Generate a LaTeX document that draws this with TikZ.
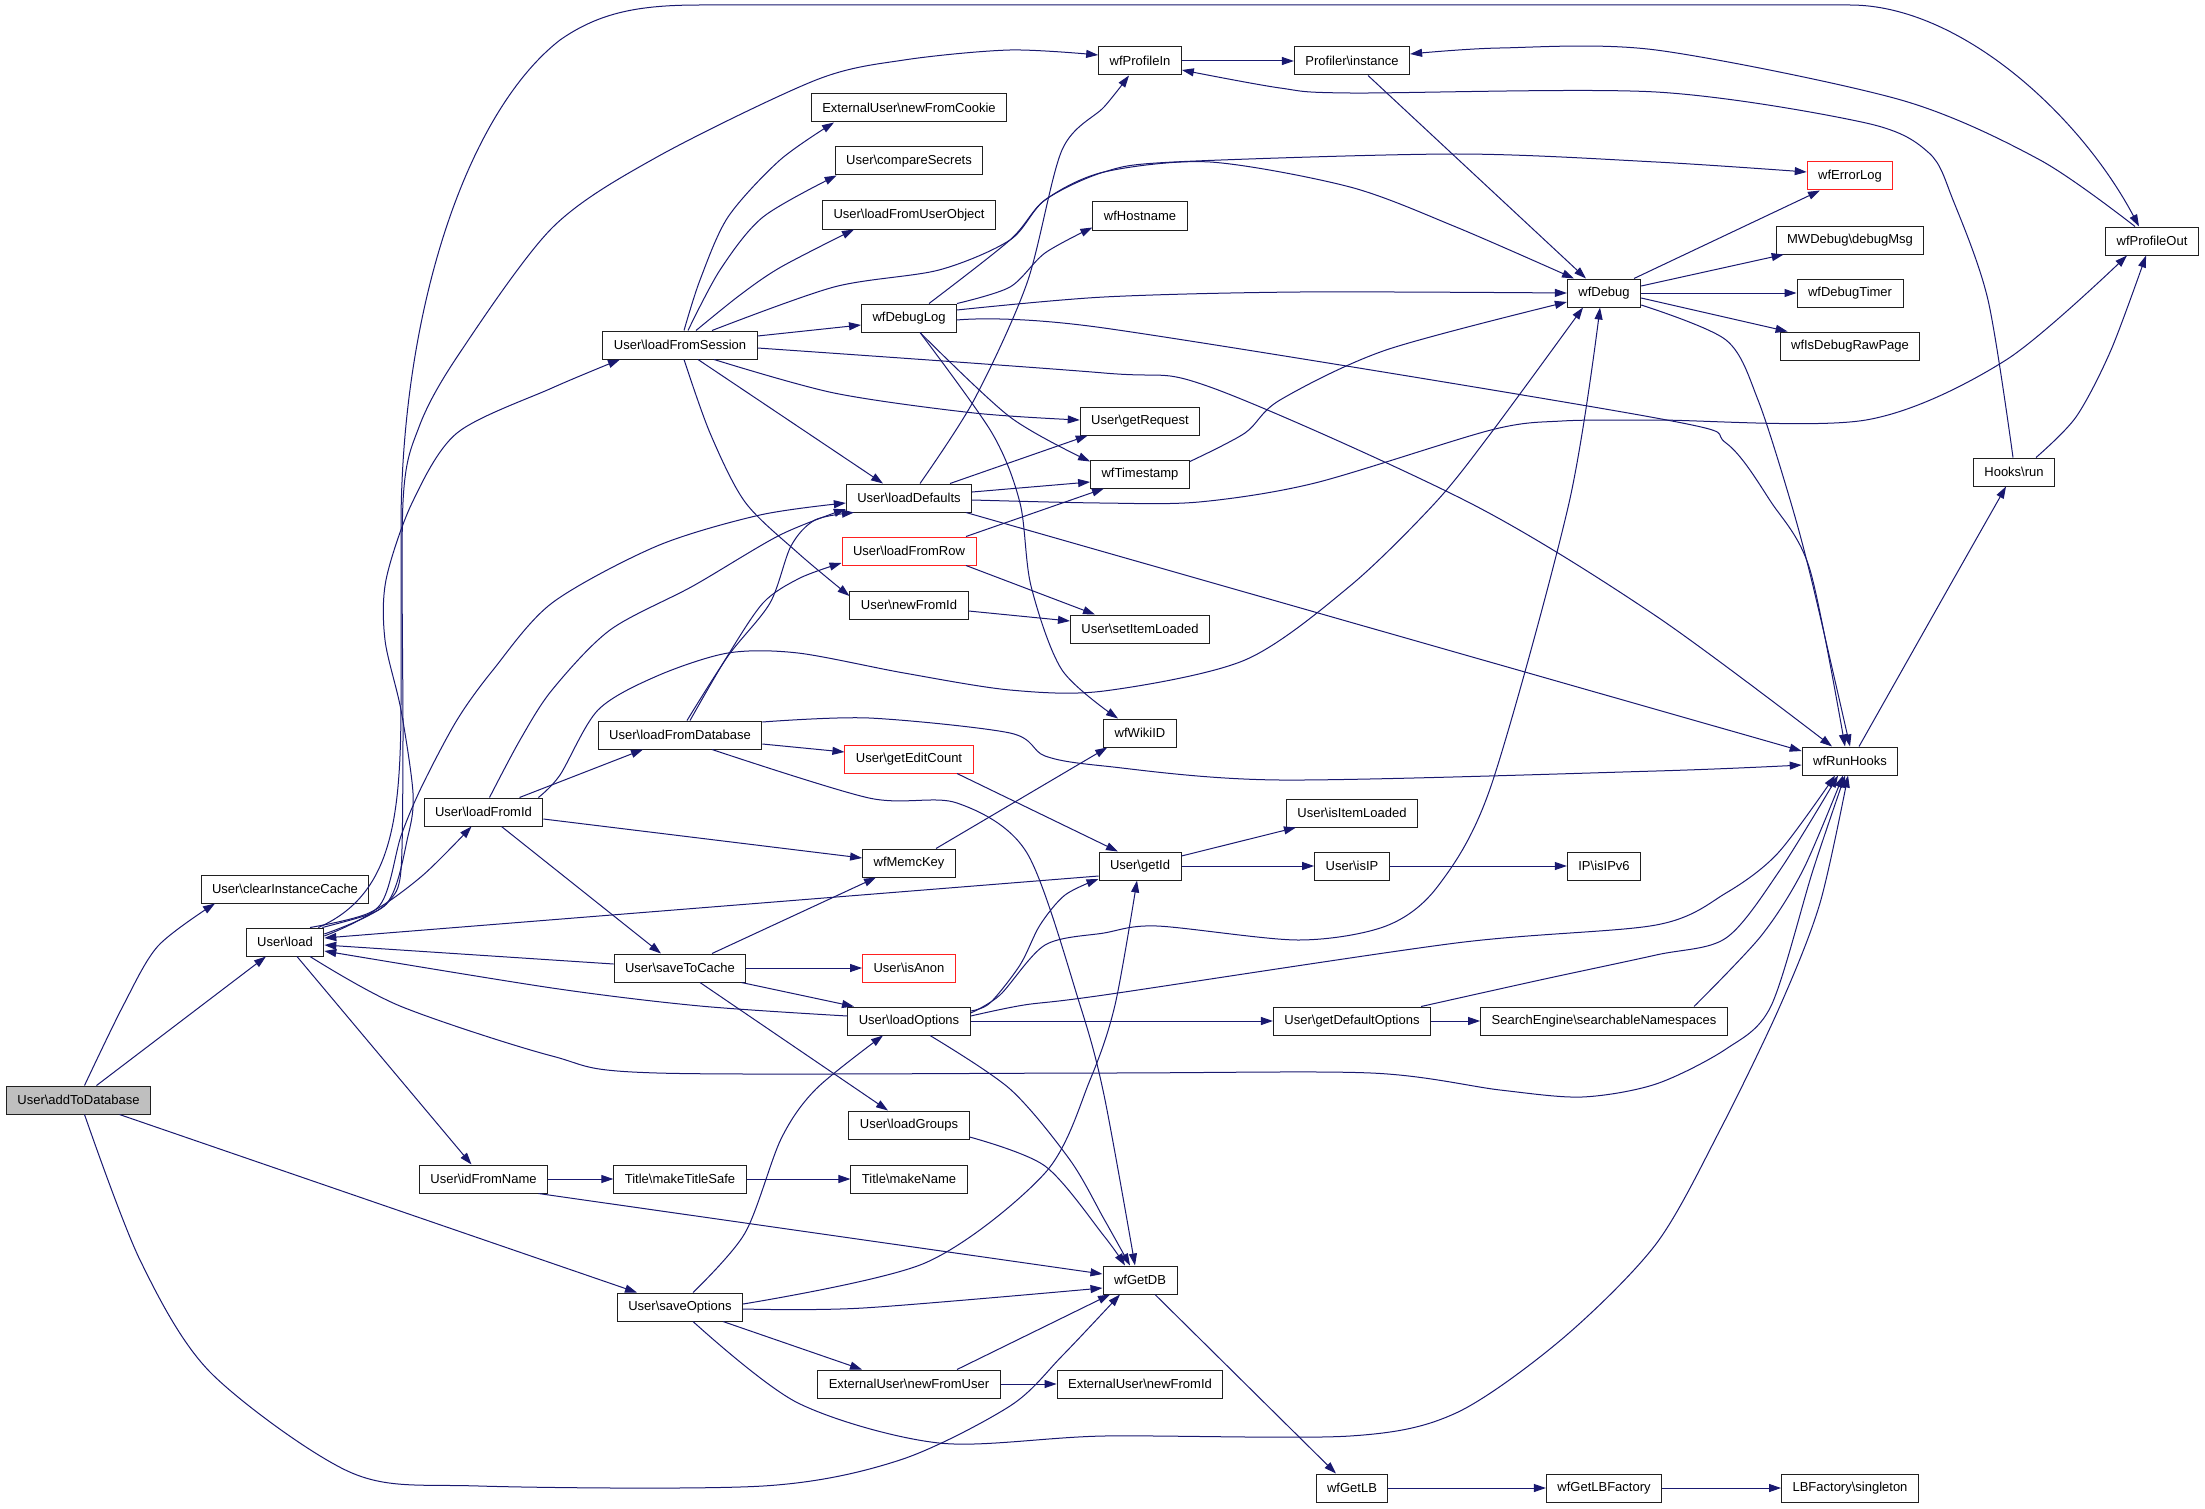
\documentclass[tikz,border=0pt]{standalone}
\usepackage{fontspec}
\setmainfont{Liberation Sans}
\usetikzlibrary{arrows.meta}
\definecolor{edgec}{HTML}{191970}
\definecolor{boxred}{HTML}{FF2020}
\definecolor{fillgray}{HTML}{BFBFBF}
\definecolor{boxline}{HTML}{202020}
\newcommand{\bsl}{\textbackslash{}}
\tikzset{
  fn/.style={draw=boxline, line width=1bp, rectangle, minimum height=28bp, inner xsep=11bp, inner ysep=0pt, fill=white, font=\fontsize{13bp}{15bp}\selectfont},
  redfn/.style={fn, draw=boxred},
  e/.style={draw=edgec, line width=1bp, -{Triangle[length=12bp,width=8bp]}, fill=none},
}
\begin{document}
\begin{tikzpicture}[x=1bp, y=-1bp]
\path[use as bounding box, fill=white] (0,0) rectangle (2205,1508);

% nodes
\node[fn, fill=fillgray] (add) at (78.5,1100) {User\bsl addToDatabase};
\node[fn] (clear) at (285,889) {User\bsl clearInstanceCache};
\node[fn] (load) at (285,942) {User\bsl load};
\node[fn] (lfid) at (483.5,812) {User\bsl loadFromId};
\node[fn] (idfn) at (483.5,1179) {User\bsl idFromName};
\node[fn] (lfs) at (680,345) {User\bsl loadFromSession};
\node[fn] (lfdb) at (680,735) {User\bsl loadFromDatabase};
\node[fn] (stc) at (680,968) {User\bsl saveToCache};
\node[fn] (mts) at (680,1179) {Title\bsl makeTitleSafe};
\node[fn] (so) at (680,1307) {User\bsl saveOptions};
\node[fn] (nfc) at (909,108) {ExternalUser\bsl newFromCookie};
\node[fn] (cs) at (909,161) {User\bsl compareSecrets};
\node[fn] (lfuo) at (909,215) {User\bsl loadFromUserObject};
\node[fn] (dlog) at (909,318) {wfDebugLog};
\node[fn] (ld) at (909,498) {User\bsl loadDefaults};
\node[redfn] (lfr) at (909,551) {User\bsl loadFromRow};
\node[fn] (nfi) at (909,605) {User\bsl newFromId};
\node[redfn] (gec) at (909,759) {User\bsl getEditCount};
\node[fn] (mk) at (909,863) {wfMemcKey};
\node[redfn] (anon) at (909,968) {User\bsl isAnon};
\node[fn] (lo) at (909,1021) {User\bsl loadOptions};
\node[fn] (lg) at (909,1125) {User\bsl loadGroups};
\node[fn] (mn) at (909,1179) {Title\bsl makeName};
\node[fn] (nfu) at (909,1384) {ExternalUser\bsl newFromUser};
\node[fn] (pin) at (1140,61) {wfProfileIn};
\node[fn] (host) at (1140,216) {wfHostname};
\node[fn] (req) at (1140,421) {User\bsl getRequest};
\node[fn] (ts) at (1140,474) {wfTimestamp};
\node[fn] (sil) at (1140,629) {User\bsl setItemLoaded};
\node[fn] (wiki) at (1140,733) {wfWikiID};
\node[fn] (gid) at (1140,866) {User\bsl getId};
\node[fn] (db) at (1140,1280) {wfGetDB};
\node[fn] (xnfi) at (1140,1384) {ExternalUser\bsl newFromId};
\node[fn] (prof) at (1352,61) {Profiler\bsl instance};
\node[fn] (iil) at (1352,813) {User\bsl isItemLoaded};
\node[fn] (isip) at (1352,866) {User\bsl isIP};
\node[fn] (gdo) at (1352,1021) {User\bsl getDefaultOptions};
\node[fn] (lb) at (1352,1488) {wfGetLB};
\node[fn] (dbg) at (1604,293) {wfDebug};
\node[fn] (ipv6) at (1604,866) {IP\bsl isIPv6};
\node[fn] (sen) at (1604,1021) {SearchEngine\bsl searchableNamespaces};
\node[fn] (lbf) at (1604,1488) {wfGetLBFactory};
\node[redfn] (elog) at (1850,176) {wfErrorLog};
\node[fn] (dmsg) at (1850,240) {MWDebug\bsl debugMsg};
\node[fn] (dtim) at (1850,293) {wfDebugTimer};
\node[fn] (raw) at (1850,346) {wfIsDebugRawPage};
\node[fn] (rh) at (1850,761) {wfRunHooks};
\node[fn] (lbs) at (1850,1488) {LBFactory\bsl singleton};
\node[fn] (pout) at (2152,241) {wfProfileOut};
\node[fn] (hr) at (2014,472) {Hooks\bsl run};

% addToDatabase
\draw[e] plot[smooth] coordinates {([xshift=6bp]add.north) (123,1006) (158,946) ([xshift=-70bp]clear.south)};
\draw[e] ([xshift=18bp]add.north) -- ([xshift=-19bp]load.south);
\draw[e] ([xshift=41bp]add.south) -- ([xshift=-43bp]so.north);
\draw[e] plot[smooth] coordinates {([xshift=6bp]add.south) (140,1260) (211,1373) (352,1473) (479,1486) (763,1486) (900,1460) (1010,1406) (1062,1356) ([xshift=-20bp]db.south)};

% load
\draw[e] plot[smooth] coordinates {([xshift=25bp]load.north) (369,913) (422,876) ([xshift=-12bp]lfid.south)};
\draw[e] ([xshift=12bp]load.south) -- ([xshift=-12bp]idfn.north);
\draw[e] plot[smooth] coordinates {([xshift=25bp]load.south) (400,1006) (552,1056) (657,1073) (1104,1073) (1371,1073) (1500,1090) (1582,1097) (1656,1084) (1726,1049) (1771,1006) (1813,870) ([xshift=-5bp]rh.south)};
\draw[e] plot[smooth] coordinates {([xshift=-2bp]load.north east) (370,914) (390,900) (401,870) (403,740) (403,502) (419,427) (457,357) (552,228) (657,157) (816,80) (904,60) (1010,50) ([yshift=6bp]pin.west)};
\draw[e] ([xshift=-6bp]load.north east) .. controls (392,895) and (401,820) .. (401,700) -- (401,520)
   .. controls (403,300) and (470,110) .. (560,40) .. controls (600,12) and (640,5) .. (700,5) -- (1850,5)
   .. controls (1960,5) and (2080,115) .. ([xshift=-13bp]pout.north);
\draw[e] plot[smooth] coordinates {([yshift=8bp]load.east) (387,903) (408,836) (413,793) (401,710) (385,640) (386,580) (412,503) (457,433) (552,388) ([xshift=-60bp]lfs.south)};
\draw[e] plot[smooth] coordinates {([yshift=6bp]load.east) (380,905) (401,836) (422,786) (457,720) (493,670) (552,603) (657,546) (760,515) ([yshift=-5bp]ld.west)};

% loadFromId
\draw[e] plot[smooth] coordinates {([xshift=6bp]lfid.north) (520,740) (552,690) (610,630) (693,586) (780,535) ([yshift=-11bp]ld.west)};
\draw[e] ([xshift=36bp]lfid.north) -- ([xshift=-37bp]lfdb.south);
\draw[e] plot[smooth] coordinates {([xshift=-5bp]lfid.north east) (560,775) (598,710) (657,676) (728,653) (798,653) (904,673) (1010,690) (1104,691) (1245,660) (1350,586) (1435,503) (1491,433) ([xshift=-21bp]dbg.south)};
\draw[e] ([yshift=-7bp]lfid.east) -- ([yshift=5bp]mk.west);
\draw[e] ([xshift=18bp]lfid.south) -- ([xshift=-19bp]stc.north);

% idFromName
\draw[e] (idfn.east) -- (mts.west);
\draw[e] ([xshift=55bp]idfn.south) -- ([yshift=6bp]db.west);
\draw[e] (mts.east) -- (mn.west);

% saveOptions
\draw[e] plot[smooth] coordinates {([xshift=13bp]so.north) (745,1233) (781,1139) (816,1089) ([xshift=-26bp]lo.south)};
\draw[e] plot[smooth] coordinates {([yshift=3bp]so.east) (925,1263) (1045,1173) (1090,1080) (1115,1005) ([xshift=-3bp]gid.south)};
\draw[e] plot[smooth] coordinates {([yshift=-2bp]so.east) (863,1308) ([yshift=-8bp]db.west)};
\draw[e] ([xshift=43bp]so.south) -- ([xshift=-47bp]nfu.north);
\draw[e] plot[smooth] coordinates {([xshift=13bp]so.south) (798,1403) (939,1443) (1104,1436) (1350,1436) (1456,1413) (1562,1339) (1656,1244) (1720,1130) (1780,1006) (1820,903) ([xshift=-2bp]rh.south)};

% newFromUser, loadGroups, wfGetDB chain
\draw[e] (nfu.east) -- (xnfi.west);
\draw[e] ([xshift=48bp]nfu.north) -- ([xshift=-30bp]db.south);
\draw[e] plot[smooth] coordinates {([yshift=-12bp]lg.east) (1045,1166) (1104,1236) ([xshift=-15bp]db.north)};
\draw[e] plot[smooth] coordinates {([xshift=21bp]lo.south) (1010,1089) (1070,1160) (1104,1219) ([xshift=-10bp]db.north)};
\draw[e] ([xshift=15bp]db.south) -- ([xshift=-16bp]lb.north);
\draw[e] (lb.east) -- (lbf.west);
\draw[e] (lbf.east) -- (lbs.west);

% into User::load
\draw[e] ([yshift=4bp]stc.west) -- ([yshift=-3bp]load.east);
\draw[e] ([yshift=-10bp]gid.west) -- ([yshift=4bp]load.east);
\draw[e] plot[smooth] coordinates {([yshift=5bp]lo.west) (700,1006) (552,988) ([yshift=-9bp]load.east)};

% saveToCache
\draw[e] ([xshift=32bp]stc.north) -- ([xshift=-33bp]mk.south);
\draw[e] (stc.east) -- (anon.west);
\draw[e] ([xshift=-5bp]stc.south east) -- ([xshift=-55bp]lo.north);
\draw[e] ([xshift=20bp]stc.south) -- ([xshift=-21bp]lg.north);

% misc middle
\draw[e] ([xshift=27bp]mk.north) -- ([xshift=4bp]wiki.south west);
\draw[e] ([xshift=48bp]gec.south) -- ([xshift=-22bp]gid.north);
\draw[e] ([yshift=10bp]gid.east) -- ([xshift=10bp]iil.south west);
\draw[e] (gid.east) -- (isip.west);
\draw[e] (isip.east) -- (ipv6.west);

% loadOptions
\draw[e] plot[smooth] coordinates {([yshift=10bp]lo.east) (990,1003) (1020,965) (1040,925) (1065,895) ([yshift=-13bp]gid.west)};
\draw[e] plot[smooth] coordinates {([yshift=8bp]lo.east) (1000,995) (1045,945) (1104,933) (1157,926) (1298,940) (1386,926) (1438,886) (1491,786) (1569,503) ([xshift=-4bp]dbg.south)};
\draw[e] plot[smooth] coordinates {([yshift=5bp]lo.east) (1024,1005) (1104,995) (1456,943) (1656,925) (1726,893) (1778,853) ([xshift=-15bp]rh.south)};
\draw[e] (lo.east) -- (gdo.west);
\draw[e] (gdo.east) -- (sen.west);
\draw[e] plot[smooth] coordinates {([xshift=-10bp]gdo.north east) (1540,980) (1656,955) (1726,938) (1780,870) ([xshift=-12bp]rh.south)};
\draw[e] plot[smooth] coordinates {([xshift=90bp]sen.north) (1761,936) (1803,870) ([xshift=-7bp]rh.south)};

% loadFromDatabase
\draw[e] plot[smooth] coordinates {([xshift=7bp]lfdb.north) (728,656) (770,603) (791,546) (815,520) ([xshift=-55bp]ld.south)};
\draw[e] plot[smooth] coordinates {([xshift=10bp]lfdb.north) (725,660) (763,603) (800,578) ([yshift=-12bp]lfr.west)};
\draw[e] ([yshift=-9bp]lfdb.east) -- ([yshift=7bp]gec.west);
\draw[e] plot[smooth] coordinates {([xshift=32bp]lfdb.south) (869,798) (957,803) (1027,853) (1080,1005) (1104,1095) ([xshift=-5bp]db.north)};
\draw[e] plot[smooth] coordinates {([yshift=13bp]lfdb.east) (869,718) (1010,733) (1045,756) (1104,766) (1280,780) (1656,771) ([yshift=-4bp]rh.west)};

% loadFromRow, newFromId
\draw[e] ([xshift=57bp]lfr.south) -- ([xshift=-45bp]sil.north);
\draw[e] ([xshift=57bp]lfr.north) -- ([xshift=-36bp]ts.south);
\draw[e] ([yshift=-6bp]nfi.east) -- ([yshift=8bp]sil.west);

% loadFromSession
\draw[e] plot[smooth] coordinates {([xshift=4bp]lfs.north) (700,280) (728,217) (780,160) ([xshift=-75bp]nfc.south)};
\draw[e] plot[smooth] coordinates {([xshift=8bp]lfs.north) (720,270) (763,217) ([xshift=2bp]cs.south west)};
\draw[e] plot[smooth] coordinates {([xshift=16bp]lfs.north) (740,295) (781,267) ([xshift=-55bp]lfuo.south)};
\draw[e] plot[smooth] coordinates {([xshift=32bp]lfs.north) (834,287) (939,270) (1010,240) (1045,200) (1104,172) (1210,162) (1350,187) (1456,227) ([xshift=-30bp]dbg.north)};
\draw[e] ([yshift=9bp]lfs.east) -- ([yshift=-7bp]dlog.west);
\draw[e] plot[smooth] coordinates {([xshift=34bp]lfs.south) (834,393) (974,413) ([yshift=1bp]req.west)};
\draw[e] ([xshift=18bp]lfs.south) -- ([xshift=-26bp]ld.north);
\draw[e] plot[smooth] coordinates {([xshift=4bp]lfs.south) (710,433) (745,502) (798,553) ([yshift=9bp]nfi.west)};
\draw[e] plot[smooth] coordinates {([yshift=-3bp]lfs.east) (1104,373) (1210,387) (1470,503) (1656,616) ([xshift=-18bp]rh.north)};

% wfDebugLog
\draw[e] plot[smooth] coordinates {([xshift=20bp]dlog.north) (1010,240) (1045,200) (1104,172) (1174,162) (1456,154) (1656,162) ([yshift=4bp]elog.west)};
\draw[e] plot[smooth] coordinates {(dlog.north east) (1010,287) (1045,253) ([yshift=3bp]host.south west)};
\draw[e] plot[smooth] coordinates {([yshift=8bp]dlog.east) (1104,297) (1300,292) (dbg.west)};
\draw[e] plot[smooth] coordinates {([xshift=11bp]dlog.south) (1010,417) ([yshift=-2bp]ts.north west)};
\draw[e] plot[smooth] coordinates {([xshift=11bp]dlog.south) (992,433) (1020,503) (1031,586) (1062,670) ([xshift=-22bp]wiki.north)};
\draw[e] plot[smooth] coordinates {([yshift=-2bp]dlog.east) (1104,328) (1656,418) (1726,443) (1771,502) (1810,570) ([xshift=-5bp]rh.north)};

% loadDefaults
\draw[e] plot[smooth] coordinates {([xshift=11bp]ld.north) (974,400) (1027,283) (1062,150) (1104,107) ([xshift=-11bp]pin.south)};
\draw[e] ([xshift=41bp]ld.north) -- ([xshift=8bp]req.south west);
\draw[e] ([yshift=6bp]ld.east) -- ([yshift=-8bp]ts.west);
\draw[e] plot[smooth] coordinates {([yshift=-2bp]ld.east) (1100,503) (1199,502) (1315,483) (1491,430) (1562,421) (1656,420) (1866,420) (2006,360) ([xshift=-25bp]pout.south)};
\draw[e] ([xshift=57bp]ld.south) -- ([yshift=10bp]rh.west);

% wfTimestamp
\draw[e] plot[smooth] coordinates {([yshift=-2bp]ts.north east) (1245,433) (1280,400) (1386,350) ([yshift=-9bp]dbg.west)};

% profiling and hooks
\draw[e] (pin.east) -- (prof.west);
\draw[e] ([xshift=16bp]prof.south) -- ([xshift=-18bp]dbg.north);
\draw[e] plot[smooth] coordinates {([xshift=-17bp]pout.north) (2040,160) (1901,100) (1656,50) (1500,48) ([yshift=7bp]prof.east)};
\draw[e] plot[smooth] coordinates {([xshift=-1bp]hr.north) (1988,300) (1953,200) (1929,153) (1866,123) (1656,92) (1350,93) (1280,88) ([yshift=-9bp]pin.east)};
\draw[e] plot[smooth] coordinates {([xshift=22bp]hr.north) (2076,417) (2111,350) ([xshift=-6bp]pout.south)};
\draw[e] plot[smooth] coordinates {([xshift=9bp]rh.north) (1953,580) ([xshift=-8bp]hr.south)};

% wfDebug
\draw[e] ([xshift=30bp]dbg.north) -- ([xshift=-30bp]elog.south);
\draw[e] ([yshift=7bp]dbg.east) -- ([xshift=8bp]dmsg.south west);
\draw[e] (dbg.east) -- (dtim.west);
\draw[e] ([yshift=-5bp]dbg.east) -- ([xshift=8bp]raw.north west);
\draw[e] plot[smooth] coordinates {([yshift=-12bp]dbg.east) (1726,340) (1758,400) (1791,503) (1813,586) (rh.north)};

\end{tikzpicture}
\end{document}
